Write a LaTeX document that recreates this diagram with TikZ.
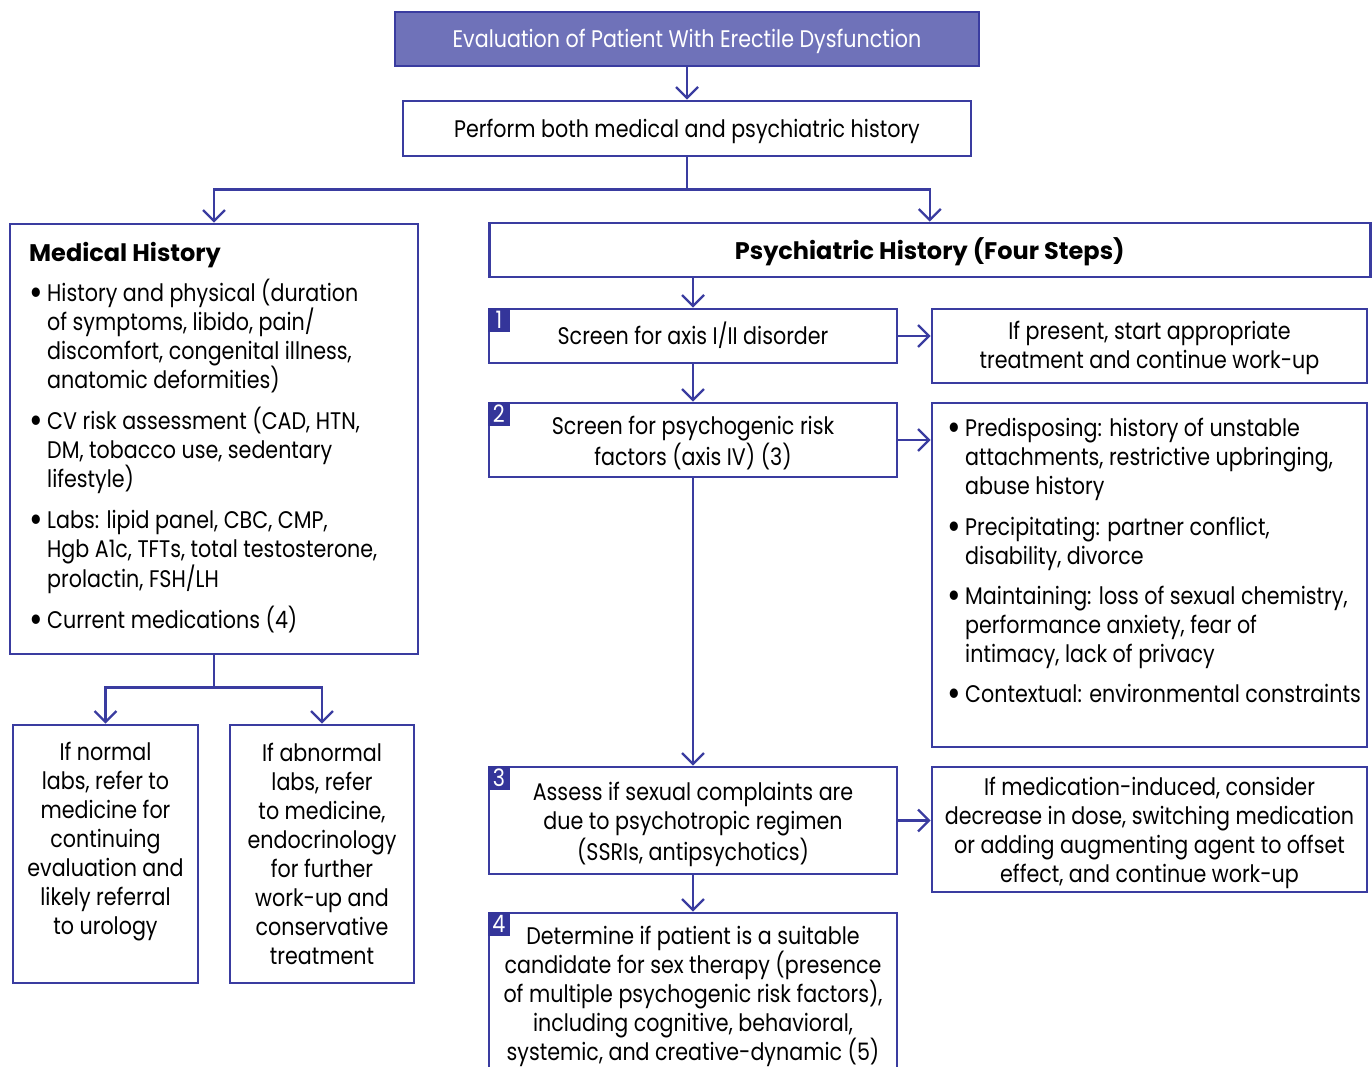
\documentclass[tikz,border=0pt]{standalone}
\usepackage{graphicx}
\usepackage{fontspec}
\setmainfont{Poppins}[FakeStretch=0.86,BoldFeatures={FakeStretch=1.0}]
\usetikzlibrary{arrows.meta}
\definecolor{edgec}{RGB}{58,60,160}
\definecolor{tfill}{RGB}{111,114,185}
\definecolor{numfill}{RGB}{52,53,154}
\newcommand\mfs{\fontsize{24}{29}\selectfont}
\newcommand\bul{\leavevmode\llap{\raisebox{-4pt}{\scalebox{1.6}{\textbullet}}\hspace{4pt}}}
\newcommand\tl[2][-3pt]{\raisebox{#1}[\height][\depth]{\begin{tabular}{@{}c@{}}#2\end{tabular}}}
\begin{document}
\begin{tikzpicture}[x=1pt,y=-1pt,
  bx/.style={draw=edgec,line width=2.6pt,inner sep=0pt,align=center,font=\mfs},
  arr/.style={draw=edgec,line width=2.4pt,-{Straight Barb[length=11pt,width=22pt,line width=2.4pt]}},
  num/.style={fill=numfill,text=white,inner sep=0pt,minimum width=22pt,minimum height=24pt,anchor=north west,font=\mfs},
  txt/.style={inner sep=0pt,font=\mfs}]
\clip (0,0) rectangle (1372,1066);
% boxes
\node[bx,fill=tfill,text=white,minimum width=584pt,minimum height=54pt] (title) at (687,39) {\tl{Evaluation of Patient With Erectile Dysfunction}};
\node[bx,minimum width=568pt,minimum height=55pt] (hist) at (687,128.5) {\tl{Perform both medical and psychiatric history}};
\node[bx,minimum width=408pt,minimum height=430pt] (med) at (214,439) {};
\node[bx,minimum width=881pt,minimum height=54pt,font=\mfs\bfseries] (psych) at (929.75,250) {\tl{Psychiatric History (Four Steps)}};
\node[bx,minimum width=408pt,minimum height=54pt] (s1) at (693,336) {\tl[-2pt]{Screen for axis I/II disorder}};
\node[bx,minimum width=435pt,minimum height=74pt] (r1) at (1149.5,346) {\tl[-2pt]{If present, start appropriate\\treatment and continue work-up}};
\node[bx,minimum width=408pt,minimum height=74pt] (s2) at (693,440) {\tl[-4pt]{Screen for psychogenic risk\\factors (axis IV) (3)}};
\node[bx,minimum width=435pt,minimum height=344pt] (r2) at (1149.5,575) {};
\node[bx,minimum width=408pt,minimum height=107pt] (s3) at (693,820.5) {\tl[-4pt]{Assess if sexual complaints are\\due to psychotropic regimen\\(SSRIs, antipsychotics)}};
\node[bx,minimum width=435pt,minimum height=125pt] (r3) at (1149.5,829.5) {\tl[-3.5pt]{If medication-induced, consider\\decrease in dose, switching medication\\or adding augmenting agent to offset\\effect, and continue work-up}};
\node[bx,minimum width=408pt,minimum height=187pt] (s4) at (693,1006.5) {};
\node[bx,minimum width=185pt,minimum height=258pt] (nl) at (105.5,854) {};
\node[bx,minimum width=184pt,minimum height=258pt] (ab) at (322,854) {\tl[-3pt]{If abnormal\\labs, refer\\to medicine,\\endocrinology\\for further\\work-up and\\conservative\\treatment}};
% number squares
\node[num] (n1) at (s1.north west) {1};
\node[num] (n2) at (s2.north west) {2};
\node[num] (n3) at (s3.north west) {3};
\node[num] (n4) at (s4.north west) {4};
% texts
\node[txt,anchor=base west,font=\mfs\bfseries] (medt) at (29,261) {Medical History};
\node[txt,anchor=base west] (medl) at (47,301) {\parbox[t]{370pt}{\raggedright
\bul History and physical (duration\\
of symptoms, libido, pain/\\
discomfort, congenital illness,\\
anatomic deformities)\\[12pt]
\bul CV risk assessment (CAD, HTN,\\
DM, tobacco use, sedentary\\
lifestyle)\\[12pt]
\bul Labs: lipid panel, CBC, CMP,\\
Hgb A1c, TFTs, total testosterone,\\
prolactin, FSH/LH\\[12pt]
\bul Current medications (4)}};
\node[txt,anchor=base west] (r2l) at (965,436) {\parbox[t]{400pt}{\raggedright
\bul Predisposing: history of unstable\\
attachments, restrictive upbringing,\\
abuse history\\[12pt]
\bul Precipitating: partner conflict,\\
disability, divorce\\[11pt]
\bul Maintaining: loss of sexual chemistry,\\
performance anxiety, fear of\\
intimacy, lack of privacy\\[11pt]
\bul Contextual: environmental constraints}};
\node[txt,anchor=base] (s4t) at (693,944) {\parbox[t]{400pt}{\centering
Determine if patient is a suitable\\
candidate for sex therapy (presence\\
of multiple psychogenic risk factors),\\
including cognitive, behavioral,\\
systemic, and creative-dynamic (5)}};
\node[txt,anchor=base] (nlt) at (105.5,760) {\parbox[t]{180pt}{\centering
If normal\\ labs, refer to\\ medicine for\\ continuing\\ evaluation and\\ likely referral\\ to urology}};
% connectors
\draw[arr] (title) -- (hist);
\draw[arr] (hist.south) -- ++(0,32) -| (med.north);
\draw[arr] (hist.south) -- ++(0,32) -| (psych.north);
\draw[arr] (psych.south -| s1.north) -- (s1.north);
\draw[arr] (s1) -- (s2);
\draw[arr] (s2) -- (s3);
\draw[arr] (s3) -- (s4);
\draw[arr] (s1.east) -- (s1.east -| r1.west);
\draw[arr] (s2.east) -- (s2.east -| r2.west);
\draw[arr] (s3.east) -- (s3.east -| r3.west);
\draw[arr] (med.south) -- ++(0,32) -| (nl.north);
\draw[arr] (med.south) -- ++(0,32) -| (ab.north);
\end{tikzpicture}
\end{document}
